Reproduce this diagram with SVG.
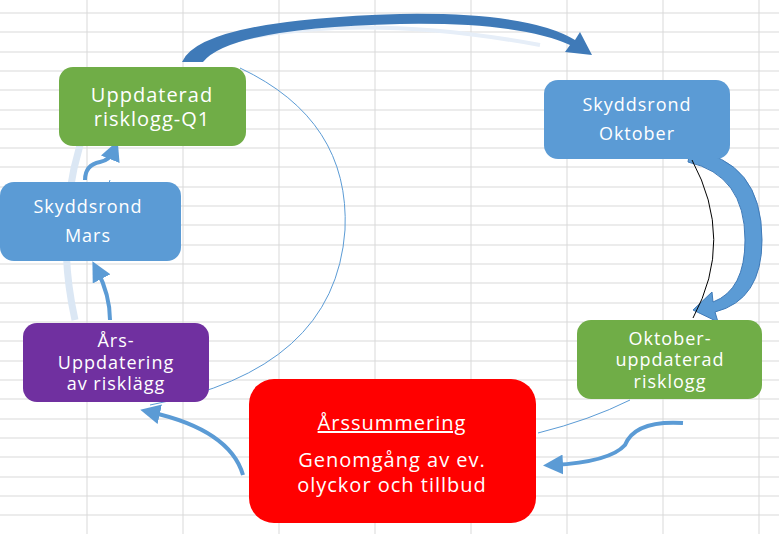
<svg xmlns="http://www.w3.org/2000/svg" width="779" height="534" viewBox="0 0 779 534">
<defs>
<style>
.grid line{stroke:#d9d9d9;stroke-width:1}
.nt{font-family:"Open Sans","Liberation Sans",sans-serif;font-size:20px;letter-spacing:1px;fill:#fff;text-anchor:middle}
.sm{font-size:18px}
.thin{fill:none;stroke:#5b9bd5;stroke-width:1}
.sa{fill:none;stroke:#5b9bd5;stroke-width:4;marker-end:url(#ah)}
</style>
<marker id="ah" markerWidth="5" markerHeight="5" refX="2.5" refY="2.5" orient="auto"><path d="M0,0L5,2.5L0,5z" fill="#5b9bd5"/></marker>
</defs>
<rect width="779" height="534" fill="#fff"/>
<g class="grid">
<line x1="87" y1="0" x2="87" y2="534"/><line x1="183" y1="0" x2="183" y2="534"/><line x1="279" y1="0" x2="279" y2="534"/><line x1="375" y1="0" x2="375" y2="534"/><line x1="471" y1="0" x2="471" y2="534"/><line x1="567" y1="0" x2="567" y2="534"/><line x1="663" y1="0" x2="663" y2="534"/><line x1="759" y1="0" x2="759" y2="534"/>
<line x1="0" y1="13" x2="779" y2="13"/><line x1="0" y1="32" x2="779" y2="32"/><line x1="0" y1="52" x2="779" y2="52"/><line x1="0" y1="71" x2="779" y2="71"/><line x1="0" y1="90" x2="779" y2="90"/><line x1="0" y1="110" x2="779" y2="110"/><line x1="0" y1="129" x2="779" y2="129"/><line x1="0" y1="148" x2="779" y2="148"/><line x1="0" y1="167" x2="779" y2="167"/><line x1="0" y1="187" x2="779" y2="187"/><line x1="0" y1="206" x2="779" y2="206"/><line x1="0" y1="225" x2="779" y2="225"/><line x1="0" y1="245" x2="779" y2="245"/><line x1="0" y1="264" x2="779" y2="264"/><line x1="0" y1="283" x2="779" y2="283"/><line x1="0" y1="303" x2="779" y2="303"/><line x1="0" y1="322" x2="779" y2="322"/><line x1="0" y1="341" x2="779" y2="341"/><line x1="0" y1="361" x2="779" y2="361"/><line x1="0" y1="380" x2="779" y2="380"/><line x1="0" y1="399" x2="779" y2="399"/><line x1="0" y1="419" x2="779" y2="419"/><line x1="0" y1="438" x2="779" y2="438"/><line x1="0" y1="457" x2="779" y2="457"/><line x1="0" y1="477" x2="779" y2="477"/><line x1="0" y1="496" x2="779" y2="496"/><line x1="0" y1="515" x2="779" y2="515"/>
</g>
<g id="connectors">
<path d="M80,145 Q55,230 75,320" fill="none" stroke="#dbe7f4" stroke-width="7"/>
<path d="M215,45 Q350,10 540,45" fill="none" stroke="#e6eef8" stroke-width="4"/>
<path d="M182,62 Q200,20 400,14 Q530,12 575,40 L580,32 L592,55 L565,52 L570,45 Q520,22 400,24 Q230,28 203,62 Z" fill="#3f7ab8"/>
<path d="M690,150 Q762,160 762,240 Q762,300 715,312 L718,322 L693,310 L712,292 L713,302 Q745,290 745,240 Q745,175 688,162 Z" fill="#5b9bd5" stroke="#3f7ab8" stroke-width="1"/>
<path d="M692,160 Q735,240 693,318" fill="none" stroke="#000" stroke-width="1"/>
<path class="thin" d="M240,68 Q350,120 345,230 Q335,370 150,405"/>
<path class="thin" d="M630,400 Q590,420 538,433"/>
<path class="thin" d="M110,180 Q102,200 108,250"/>
<path class="sa" d="M243,475 Q230,430 150,412"/>
<path class="sa" d="M110,320 Q110,295 97,270"/>
<path class="sa" d="M85,180 Q85,165 100,162 Q110,160 114,150"/>
<path class="sa" d="M683,423 Q635,420 625,445 Q610,462 553,465"/>
</g>
<g id="n-q1"><rect x="59" y="67" width="187" height="79" rx="14" fill="#70ad47"/><text class="nt" x="152" y="102">Uppdaterad</text><text class="nt" x="152" y="126">risklogg-Q1</text></g>
<g id="n-okt"><rect x="544" y="80" width="186" height="79" rx="14" fill="#5b9bd5"/><text class="nt sm" x="637" y="111">Skyddsrond</text><text class="nt sm" x="637" y="140">Oktober</text></g>
<g id="n-mars"><rect x="0" y="182" width="181" height="79" rx="14" fill="#5b9bd5"/><text class="nt sm" x="88" y="213">Skyddsrond</text><text class="nt sm" x="88" y="242">Mars</text></g>
<g id="n-oktupd"><rect x="577" y="320" width="185" height="79" rx="14" fill="#70ad47"/><text class="nt sm" x="670" y="345">Oktober-</text><text class="nt sm" x="670" y="366">uppdaterad</text><text class="nt sm" x="670" y="388">risklogg</text></g>
<g id="n-ars"><rect x="23" y="323" width="186" height="79" rx="14" fill="#7030a0"/><text class="nt sm" x="116" y="347">Års-</text><text class="nt sm" x="116" y="369">Uppdatering</text><text class="nt sm" x="116" y="390">av risklägg</text></g>
<g id="n-summ"><rect x="249" y="379" width="287" height="144" rx="25" fill="#ff0000"/><text class="nt" x="392" y="430" font-size="22" text-decoration="underline">Årssummering</text><text class="nt" x="392" y="467" font-size="22">Genomgång av ev.</text><text class="nt" x="392" y="492" font-size="22">olyckor och tillbud</text></g>
</svg>
